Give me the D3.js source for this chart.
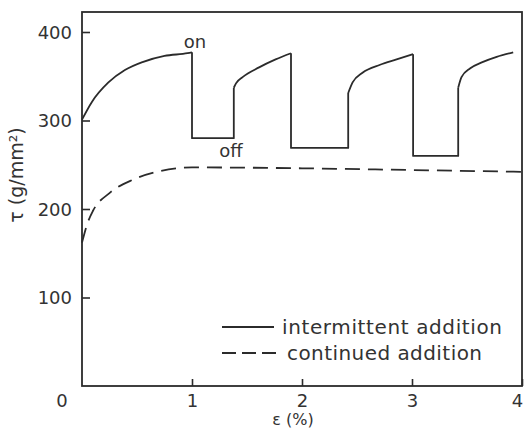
<!DOCTYPE html>
<html>
<head>
<meta charset="utf-8">
<script src="https://cdn.jsdelivr.net/npm/d3@7"></script>
<style>
  html, body { margin: 0; padding: 0; background: #fff; }
  svg { display: block; }
  text { font-family: "DejaVu Sans", sans-serif; fill: #333; }
</style>
</head>
<body>
<svg id="chart" width="525" height="430"></svg>
<script>
// ---- data ----
const xTicks = [1, 2, 3, 4];
const yTicks = [100, 200, 300, 400];
const originLabel = "0";

// intermittent addition: rising arcs (strain %, stress g/mm²)
const arc1X = [0, 0.09, 0.24, 0.39, 0.55, 0.75, 0.96, 1.0];
const arc1Y = [301, 321, 343, 357, 366, 373, 376, 377];
const arc2X = [1.38, 1.40, 1.46, 1.61, 1.76, 1.90];
const arc2Y = [337, 342, 349, 360, 369, 376];
const arc3X = [2.42, 2.46, 2.55, 2.71, 2.86, 3.01];
const arc3Y = [331, 343, 354, 363, 369, 375];
const arc4X = [3.42, 3.45, 3.53, 3.64, 3.77, 3.92];
const arc4Y = [337, 349, 359, 366, 372, 377];
// "off" plateaus
const offLevels = [280, 269, 260];

// continued addition
const contX = [0, 0.05, 0.1, 0.25, 0.46, 0.68, 0.86, 1.0, 2.0, 3.0, 4.0];
const contY = [162, 184, 198, 218, 233, 242, 246, 247, 246, 244, 242];

const legendLabels = ["intermittent addition", "continued addition"];
const xTitle = "ε  (%)";
const yTitle = "τ  (g/mm²)";

// ---- layout ----
const svg = d3.select("#chart");
const x = d3.scaleLinear().domain([0, 4]).range([82, 522]);
const y = d3.scaleLinear().domain([0, 400]).range([386, 32]);
const frameTop = 12;
const ink = "#2b2b2b";

// frame
svg.append("rect")
  .attr("x", x(0)).attr("y", frameTop)
  .attr("width", x(4) - x(0)).attr("height", y(0) - frameTop)
  .attr("fill", "none").attr("stroke", ink).attr("stroke-width", 1.8);

// y axis (inward ticks)
const yAxis = d3.axisRight(y).tickValues(yTicks).tickSize(8).tickFormat(d3.format("d"));
const gy = svg.append("g").attr("transform", `translate(${x(0)},0)`).call(yAxis);
gy.select(".domain").remove();
gy.selectAll(".tick line").attr("stroke", ink).attr("stroke-width", 1.6);
gy.selectAll(".tick text")
  .attr("x", -10).attr("dy", "0.36em").attr("text-anchor", "end")
  .style("font-size", "18px").attr("fill", "#333");

// x axis (inward ticks)
const xAxis = d3.axisTop(x).tickValues(xTicks).tickSize(7).tickFormat(d3.format("d"));
const gx = svg.append("g").attr("transform", `translate(0,${y(0)})`).call(xAxis);
gx.select(".domain").remove();
gx.selectAll(".tick line").attr("stroke", ink).attr("stroke-width", 1.6);
gx.selectAll(".tick text")
  .attr("y", 21).attr("dy", 0).attr("text-anchor", "middle")
  .style("font-size", "18px").attr("fill", "#333");
gx.selectAll(".tick").filter(d => d === 4).select("text").attr("dx", -5);

svg.append("text").attr("x", 62).attr("y", 407).attr("text-anchor", "middle")
  .style("font-size", "18px").text(originLabel);

// axis titles
svg.append("text").attr("x", 293).attr("y", 425).attr("text-anchor", "middle")
  .style("font-size", "16px").text(xTitle);
svg.append("text")
  .attr("transform", "translate(23,175) rotate(-90)")
  .attr("text-anchor", "middle").style("font-size", "19px").text(yTitle);

// curves
const zip = (xs, ys) => xs.map((v, i) => [v, ys[i]]);
const curveLine = d3.line().x(d => x(d[0])).y(d => y(d[1])).curve(d3.curveMonotoneX);
const straight = d3.line().x(d => x(d[0])).y(d => y(d[1]));

const arcs = [zip(arc1X, arc1Y), zip(arc2X, arc2Y), zip(arc3X, arc3Y), zip(arc4X, arc4Y)];
const g = svg.append("g").attr("fill", "none").attr("stroke", ink)
  .attr("stroke-width", 1.8).attr("stroke-linejoin", "round");
arcs.forEach(a => g.append("path").attr("d", curveLine(a)));
// drop – plateau – jump connectors
offLevels.forEach((lvl, i) => {
  const a = arcs[i], b = arcs[i + 1];
  const end = a[a.length - 1], start = b[0];
  g.append("path").attr("d", straight([end, [end[0], lvl], [start[0], lvl], start]));
});

// continued addition (dashed)
svg.append("path")
  .attr("d", curveLine(zip(contX, contY)))
  .attr("fill", "none").attr("stroke", ink).attr("stroke-width", 1.8)
  .attr("stroke-dasharray", "15,8");

// on / off labels
svg.append("text").attr("x", 195).attr("y", 48).attr("text-anchor", "middle")
  .style("font-size", "18px").text("on");
svg.append("text").attr("x", 231).attr("y", 157).attr("text-anchor", "middle")
  .style("font-size", "18px").text("off");

// legend
const legendY = [327, 353];
svg.append("line").attr("x1", 222).attr("x2", 274).attr("y1", legendY[0]).attr("y2", legendY[0])
  .attr("stroke", ink).attr("stroke-width", 1.8);
svg.append("line").attr("x1", 222).attr("x2", 282).attr("y1", legendY[1]).attr("y2", legendY[1])
  .attr("stroke", ink).attr("stroke-width", 1.8).attr("stroke-dasharray", "14,6");
svg.append("text").attr("x", 282).attr("y", legendY[0] + 7).style("font-size", "20px")
  .attr("textLength", 220).attr("lengthAdjust", "spacing")
  .text(legendLabels[0]);
svg.append("text").attr("x", 287).attr("y", legendY[1] + 7).style("font-size", "20px")
  .attr("textLength", 195).attr("lengthAdjust", "spacing")
  .text(legendLabels[1]);
</script>
</body>
</html>
